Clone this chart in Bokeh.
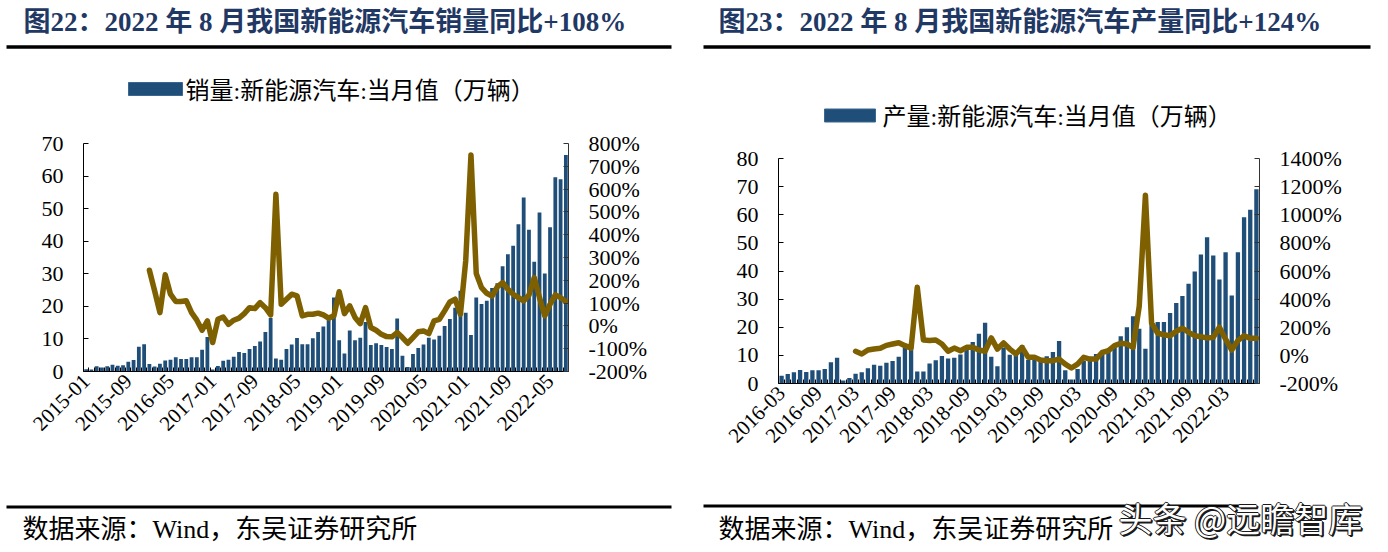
import math
from bokeh.plotting import figure
from bokeh.models import Range1d, LinearAxis, FixedTicker, PrintfTickFormatter
from bokeh.layouts import row, column
from bokeh.embed import file_html
from bokeh.resources import INLINE
from bokeh.core.properties import value

# ---------------- data ----------------
sales_title = "图22：2022 年 8 月我国新能源汽车销量同比+108%"
prod_title = "图23：2022 年 8 月我国新能源汽车产量同比+124%"
sales_legend = "销量:新能源汽车:当月值（万辆）"
prod_legend = "产量:新能源汽车:当月值（万辆）"
source_text = "数据来源：Wind，东吴证券研究所"
watermark_text = "头条 @远瞻智库"

# monthly NEV sales, 2015-01 .. 2022-08 (万辆)
sales = [
    0.7, 0.6, 1.6, 1.2, 1.6, 2.1, 1.8, 1.9, 3.0, 3.5, 7.6, 8.4,
    2.3, 1.5, 2.4, 3.4, 3.6, 4.4, 3.8, 3.8, 4.4, 4.4, 6.7, 10.6,
    0.6, 1.7, 3.3, 3.6, 4.5, 6.0, 5.7, 6.9, 7.8, 9.2, 12.1, 16.4,
    4.0, 3.6, 6.9, 8.3, 10.3, 8.4, 8.4, 10.2, 12.1, 13.8, 17.0, 22.7,
    9.6, 5.5, 12.6, 9.6, 10.4, 15.2, 8.1, 8.7, 8.1, 7.5, 6.9, 16.3,
    4.8, 1.4, 5.4, 7.2, 8.3, 10.4, 9.8, 11.0, 14.0, 16.1, 19.6, 24.8,
    18.0, 11.2, 22.7, 20.7, 21.7, 25.6, 27.1, 32.3, 36.0, 38.6, 45.2, 53.4,
    43.5, 33.7, 48.8, 30.1, 44.3, 59.6, 59.0, 66.5,
]
# sales YoY (%), 2016-01 .. 2022-08
sales_yoy = [
    244, 153, 58, 224, 139, 107, 107, 110, 58, 25, -19, 22,
    -73, 29, 39, 7, 25, 34, 54, 80, 76, 102, 80, 48,
    577, 95, 117, 139, 132, 44, 51, 51, 56, 48, 34, 44,
    150, 54, 88, 37, 10, 80, -7, -19, -37, -47, -48, -29,
    -51, -76, -51, -26, -22, -34, 22, 29, 66, 105, 117, 51,
    285, 750, 230, 168, 143, 131, 171, 190, 161, 139, 124, 110,
    135, 212, 124, 44, 95, 136, 124, 107,
]
sales_ticks = ["2015-01", "2015-09", "2016-05", "2017-01", "2017-09", "2018-05",
               "2019-01", "2019-09", "2020-05", "2021-01", "2021-09", "2022-05"]

# monthly NEV production, 2016-03 .. 2022-08 (万辆)
prod = [
    2.8, 3.4, 4.0, 4.8, 4.1, 4.7, 4.7, 5.2, 7.6, 9.2,
    1.1, 2.0, 3.5, 4.0, 5.4, 6.7, 6.3, 7.4, 8.0, 9.5, 12.7, 14.7,
    4.3, 4.3, 7.1, 8.3, 9.8, 8.9, 9.2, 10.3, 12.4, 14.8, 17.7, 21.6,
    9.5, 6.1, 12.8, 10.2, 11.2, 13.6, 8.4, 8.9, 8.3, 9.7, 11.2, 15.1,
    4.7, 1.4, 5.2, 8.0, 8.3, 10.5, 10.5, 11.5, 13.9, 16.8, 20.0, 23.9,
    19.5, 12.4, 21.9, 21.9, 21.9, 25.1, 28.6, 31.1, 35.5, 39.8, 45.9, 52.0,
    45.5, 37.0, 46.7, 31.3, 46.7, 59.1, 61.8, 69.1,
]
# production YoY (%), 2017-03 .. 2022-08
prod_yoy = [
    29, 10, 38, 45, 50, 71, 81, 90, 69, 52,
    485, 109, 105, 109, 81, 29, 52, 33, 57, 57, 38, 29,
    124, 45, 88, 45, 10, 57, -14, -14, -33, -38, -38, -26,
    -62, -90, -62, -14, -26, -26, 21, 33, 69, 86, 81, 57,
    350, 1139, 230, 157, 147, 140, 171, 193, 164, 140, 133, 124,
    128, 200, 115, 38, 105, 140, 121, 121,
]
prod_ticks = ["2016-03", "2016-09", "2017-03", "2017-09", "2018-03", "2018-09",
              "2019-03", "2019-09", "2020-03", "2020-09", "2021-03", "2021-09", "2022-03"]

# ---------------- styles ----------------
BAR = "#1F4E79"
LINE = "#7F6000"
NAVY = "#1F3864"
SERIF = "'Liberation Serif', 'Noto Sans CJK SC'"
CJK = "'Noto Sans CJK SC'"
COL_W = 694


def no_align(p):
    try:
        p.frame_align = False
    except Exception:
        pass
    return p


def deco_fig(w, h):
    p = figure(width=w, height=h, output_backend="svg", toolbar_location=None,
               x_range=Range1d(0, w), y_range=Range1d(h, 0),
               x_axis_location=None, y_axis_location=None, min_border=0)
    p.grid.visible = False
    p.outline_line_color = None
    return no_align(p)


def chart(vals, yoy, yoy_offset, tick_labels, tick_step, ymax, ystep,
          pmin, pmax, pstep, height, bl, br, bt, bb, barw):
    n = len(vals)
    p = figure(width=COL_W, height=height, output_backend="svg", toolbar_location=None,
               x_range=Range1d(-0.5, n - 0.5), y_range=Range1d(0, ymax),
               min_border_left=bl, min_border_right=br, min_border_top=bt,
               min_border_bottom=bb)
    no_align(p)
    p.outline_line_color = None
    p.grid.visible = False
    p.extra_y_ranges = {"pct": Range1d(pmin, pmax)}
    p.vbar(x=list(range(n)), top=vals, width=barw, fill_color=BAR, line_color=None)
    p.line(x=list(range(yoy_offset, yoy_offset + len(yoy))), y=yoy, y_range_name="pct",
           line_color=LINE, line_width=5.5, line_join="round", line_cap="round")

    xa = p.xaxis[0]
    centers = list(range(0, n, tick_step))[:len(tick_labels)]
    xa.ticker = FixedTicker(ticks=centers, minor_ticks=[i - 0.5 for i in range(n + 1)])
    xa.major_label_overrides = {c: lab for c, lab in zip(centers, tick_labels)}
    xa.major_label_orientation = math.pi / 4
    xa.major_tick_line_color = None
    xa.major_tick_in = 0
    xa.major_tick_out = 0
    xa.minor_tick_in = 4
    xa.minor_tick_out = 0
    xa.minor_tick_line_color = "black"
    xa.axis_line_color = "black"
    xa.major_label_standoff = 6
    xa.major_label_text_font = SERIF
    xa.major_label_text_font_size = "21px"
    xa.major_label_text_color = "black"

    ya = p.yaxis[0]
    ya.ticker = FixedTicker(ticks=list(range(0, ymax + 1, ystep)))
    ya.axis_line_color = "black"
    ya.major_tick_in = 5
    ya.major_tick_out = 0
    ya.minor_tick_line_color = None
    ya.major_label_standoff = 20
    ya.major_label_text_font = SERIF
    ya.major_label_text_font_size = "22px"
    ya.major_label_text_color = "black"

    ra = LinearAxis(y_range_name="pct",
                    ticker=FixedTicker(ticks=list(range(pmin, pmax + 1, pstep))),
                    formatter=PrintfTickFormatter(format="%d%%"))
    ra.axis_line_color = "#333333"
    ra.major_tick_line_color = "#333333"
    ra.major_tick_in = 5
    ra.major_tick_out = 0
    ra.minor_tick_line_color = None
    ra.major_label_standoff = 20
    ra.major_label_text_font = SERIF
    ra.major_label_text_font_size = "22px"
    ra.major_label_text_color = "black"
    p.add_layout(ra, "right")
    return p


def top_fig(h, title, legend, title_x, rule_x0, rule_x1, leg_x0, leg_x1, leg_y, text_x):
    p = deco_fig(COL_W, h)
    p.text(x=[title_x], y=[21], text=[title], text_font=value(SERIF), text_font_size="27px",
           text_font_style="bold", text_color=NAVY, text_baseline="middle", text_align="left")
    p.segment(x0=[rule_x0], y0=[46.5], x1=[rule_x1], y1=[46.5], line_color="black", line_width=3.5)
    p.quad(left=[leg_x0], right=[leg_x1], top=[leg_y - 6.5], bottom=[leg_y + 6.5],
           fill_color=BAR, line_color="#3A6690", line_width=1)
    p.text(x=[text_x], y=[leg_y + 1.5], text=[legend], text_font=value(SERIF), text_font_size="24px",
           text_color="black", text_baseline="middle", text_align="left")
    return p


def bottom_fig(h, rule_y, rule_x0, rule_x1, text_x, wm=False):
    p = deco_fig(COL_W, h)
    p.segment(x0=[rule_x0], y0=[rule_y], x1=[rule_x1], y1=[rule_y], line_color="black", line_width=3)
    p.text(x=[text_x], y=[49], text=[source_text], text_font=value(SERIF), text_font_size="26px",
           text_color="black", text_baseline="middle", text_align="left")
    if wm:
        for dx, dy in [(-1, 0), (1, 0), (0, -1), (0, 1), (1.5, 1.5), (2, 1)]:
            p.text(x=[424], y=[37], text=[watermark_text], text_font=value(CJK),
                   text_font_size="34px", text_color="#1a1a1a", text_baseline="middle",
                   text_align="left", x_offset=dx, y_offset=dy)
        p.text(x=[424], y=[37], text=[watermark_text], text_font=value(CJK),
               text_font_size="34px", text_color="white", text_baseline="middle",
               text_align="left")
    return p


left_top = top_fig(120, sales_title, sales_legend, 23, 6, 671, 128, 182, 88.5, 185)
left_chart = chart(sales, sales_yoy, 12, sales_ticks, 8, 70, 10, -200, 800, 100,
                   360, 83, 126, 23, 109, 0.72)
left_bot = bottom_fig(72, 26.5, 6, 671, 22)

right_top = top_fig(140, prod_title, prod_legend, 24, 9, 676, 130, 181, 115, 188)
right_chart = chart(prod, prod_yoy, 12, prod_ticks, 6, 80, 10, -200, 1400, 200,
                    340, 84, 129, 18, 97, 0.7)
right_bot = bottom_fig(72, 25.5, 9, 546, 24, wm=True)

layout = row(column(left_top, left_chart, left_bot), column(right_top, right_chart, right_bot))

open("out.html", "w").write(file_html(layout, INLINE, title="NEV charts"))
